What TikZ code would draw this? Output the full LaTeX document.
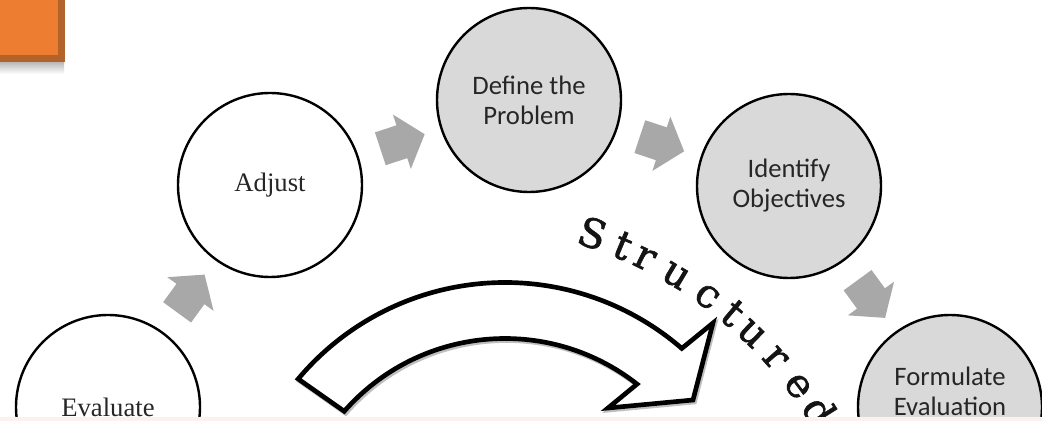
\documentclass[tikz,border=0pt]{standalone}
\usepackage{fontspec}
\setmainfont{Liberation Serif}
\newfontfamily\calfont{Carlito}
\newfontfamily\slabfont{DejaVu Serif}[FakeBold=1.6]
\usetikzlibrary{shapes.arrows,calc}
\definecolor{cfill}{HTML}{D9D9D9}
\definecolor{agray}{HTML}{A8A8A8}
\definecolor{orng}{HTML}{ED7D31}
\definecolor{orngdk}{HTML}{B3622B}
\definecolor{bandc}{RGB}{252,242,237}
\definecolor{txt}{HTML}{262626}
\begin{document}
\begin{tikzpicture}[x=0.75pt,y=0.75pt,
  stage/.style={circle, draw=black, line width=1.8pt, minimum size=138pt, inner sep=0pt, text=txt, align=center},
  serifstage/.style={stage, fill=white, font=\fontsize{20pt}{22.5pt}\selectfont},
  sansstage/.style={stage, fill=cfill, font=\calfont\fontsize{20pt}{22.5pt}\selectfont},
  sanstext/.style={text=txt, align=center, inner sep=0pt, font=\calfont\fontsize{20pt}{22.5pt}\selectfont},
  garrow/.style={single arrow, fill=agray, draw=none, minimum height=35pt, inner xsep=0pt, inner ysep=12.75pt, single arrow head extend=8.5pt, single arrow tip angle=100},
  letter/.style={font=\slabfont\fontsize{30pt}{30pt}\selectfont, anchor=base, inner sep=0pt, text=black!92},
  bigarrow/.style={draw=black, fill=white, line width=3.5pt, line join=miter},
  bigshadow/.style={draw=black, line width=3.5pt, line join=miter, opacity=0.25}
]
\clip (0,0) rectangle (1042,421);
\fill[white] (0,0) rectangle (1042,421);
% orange tab
\shade[top color=black!30, bottom color=white] (0,347) rectangle (64,360);
\fill[orngdk] (-5,359) rectangle (65,426);
\fill[orng] (-5,366) rectangle (58,426);

% stages
\node[serifstage] (eval) at (108,14) {Evaluate};
\node[serifstage] (adj) at (270,236) {Adjust};
\node[sansstage] (def) at (529,321) {Define the\\Problem};
\node[sansstage] (ident) at (789,235) {Identify\\Objectives};
\node[sansstage] (form) at (950,14) {};
\node[sanstext] (formtxt) at (950,30) {Formulate\\Evaluation};

% gray arrows
\node[garrow, rotate=53.9] (a1) at ($(eval)!0.485!(adj)$) {};
\node[garrow, rotate=18.2] (a2) at ($(adj)!0.485!(def)$) {};
\node[garrow, rotate=-18.3] (a3) at ($(def)!0.485!(ident)$) {};
\node[garrow, rotate=-53.9] (a4) at ($(ident)!0.485!(form)$) {};

% big curved arrow
\begin{scope}[shift={(506.5,-133.5)}]
\draw[bigshadow] (140:270) arc[start angle=140, end angle=49.1, radius=270]
  -- (208,229.5) -- (188,152.5) -- (103,144.5) -- (51.9:214)
  arc[start angle=51.9, end angle=138.7, radius=214] -- cycle;
\end{scope}
\begin{scope}[shift={(505,-131.5)}]
\draw[bigarrow] (140:270) arc[start angle=140, end angle=49.1, radius=270]
  -- (208,229.5) -- (188,152.5) -- (103,144.5) -- (51.9:214)
  arc[start angle=51.9, end angle=138.7, radius=214] -- cycle;
\end{scope}

% curved word
\begin{scope}[shift={(458,-218)}]
\foreach \ch/\ang [count=\i] in {S/71.65, t/67.25, r/63.9, u/59.06, c/53.99, t/49.85, u/46.14, r/41.55, e/36.63, d/32.3}{
  \node[letter, rotate=\ang-90] (l\i) at (\ang:413) {\ch};
}
\end{scope}

% bottom band
\fill[bandc] (0,0) rectangle (1042,3.5);
\end{tikzpicture}
\end{document}
